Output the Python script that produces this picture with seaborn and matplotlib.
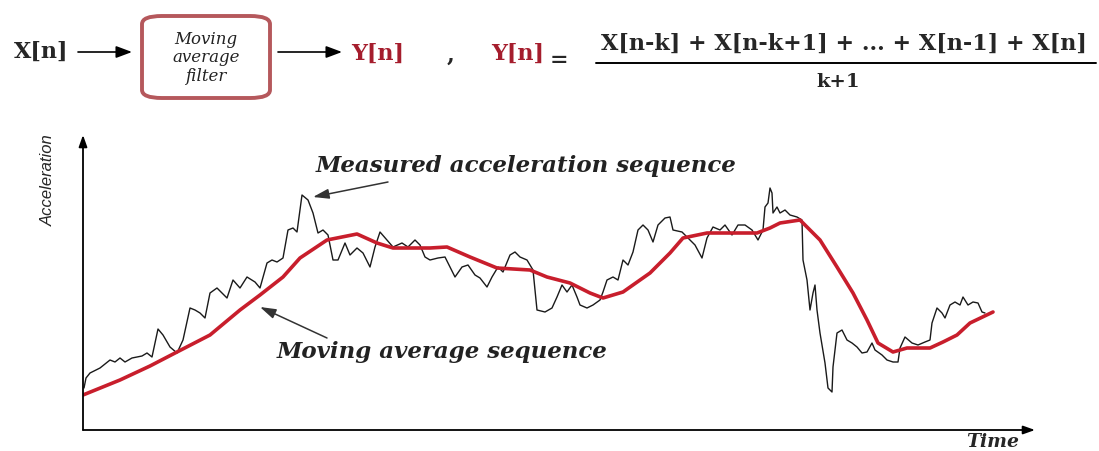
import numpy as np
import pandas as pd
import matplotlib
matplotlib.use("Agg")
import matplotlib.pyplot as plt
from matplotlib.patches import FancyBboxPatch, FancyArrowPatch
from matplotlib.lines import Line2D
import seaborn as sns

# ---------------- data ----------------
measured_time = [84, 86, 90, 100, 110, 115, 120, 125, 132, 142, 147, 152, 158, 163, 170, 177, 183, 190, 195, 200,
                 205, 210, 217, 227, 233, 240, 247, 255, 260, 267, 272, 277, 283, 288, 293, 297, 302, 308, 313, 318,
                 323, 328, 333, 338, 345, 350, 357, 363, 370, 375, 380, 387, 393, 402, 408, 415, 420, 425, 430, 438,
                 445, 450, 455, 462, 468, 475, 480, 487, 492, 498, 503, 510, 515, 520, 527, 533, 537, 545, 552, 557,
                 562, 567, 572, 577, 580, 587, 593, 600, 603, 607, 613, 618, 623, 628, 633, 638, 643, 648, 653, 658,
                 665, 670, 673, 682, 688, 695, 702, 707, 713, 720, 725, 732, 738, 745, 752, 758, 763, 765, 768, 770,
                 772, 773, 777, 780, 785, 790, 797, 802, 803, 807, 810, 813, 815, 817, 820, 825, 828, 832, 833, 837,
                 842, 847, 852, 857, 862, 867, 872, 875, 882, 887, 893, 898, 900, 905, 912, 918, 925, 930, 932, 937,
                 942, 945, 950, 955, 960, 963, 968, 973, 978, 982, 985]
measured_accel = [42, 52, 57, 62, 70, 68, 72, 68, 72, 74, 77, 73, 101, 95, 83, 77, 90, 122, 120, 117,
                  112, 137, 142, 132, 150, 142, 153, 148, 142, 167, 170, 168, 172, 200, 202, 198, 235, 230, 217, 197,
                  200, 195, 170, 170, 187, 175, 182, 177, 163, 183, 198, 190, 183, 187, 183, 190, 185, 173, 170, 172,
                  173, 163, 153, 163, 165, 155, 152, 143, 153, 163, 158, 175, 178, 173, 170, 160, 120, 118, 122, 133,
                  145, 138, 145, 133, 125, 122, 125, 130, 138, 150, 153, 150, 170, 165, 178, 200, 205, 200, 188, 205,
                  212, 213, 200, 198, 192, 185, 172, 192, 203, 200, 205, 195, 205, 205, 200, 190, 200, 223, 227, 242,
                  237, 217, 223, 217, 220, 215, 213, 210, 170, 150, 120, 137, 145, 120, 97, 67, 42, 38, 63, 97,
                  100, 90, 87, 83, 77, 78, 87, 80, 75, 70, 68, 68, 82, 93, 87, 85, 88, 90, 107, 122,
                  117, 112, 125, 128, 125, 133, 125, 128, 127, 118, 117]

average_time = [83, 120, 150, 177, 210, 240, 260, 283, 300, 327, 357, 377, 393, 430, 447, 470, 497, 530, 547, 570,
                590, 603, 623, 650, 670, 683, 707, 757, 770, 780, 800, 820, 837, 853, 867, 878, 893, 907, 930, 943,
                957, 970, 993]
average_accel = [35, 50, 64, 78, 95, 120, 135, 153, 172, 190, 196, 187, 182, 182, 183, 173, 162, 160, 153, 147,
                 137, 132, 138, 157, 177, 192, 197, 197, 202, 207, 210, 190, 163, 137, 110, 87, 78, 82, 82, 88,
                 95, 107, 118]

label_measured = "Measured acceleration sequence"
label_average = "Moving average sequence"
label_x = "Time"
label_y = "Acceleration"

measured_df = pd.DataFrame({"time": measured_time, "accel": measured_accel})
average_df = pd.DataFrame({"time": average_time, "accel": average_accel})

# ---------------- style ----------------
sns.set_style("white")
plt.rcParams["font.family"] = ["DejaVu Serif", "Liberation Serif"]

W, H = 1099, 451
fig = plt.figure(figsize=(W / 100, H / 100), dpi=100)


def fx(x):
    return x / W


def fy(y):
    return 1 - y / H


ax_left, ax_right, ax_top, ax_bottom = 83, 1035, 135, 430
ax = fig.add_axes([fx(ax_left), fy(ax_bottom), (ax_right - ax_left) / W, (ax_bottom - ax_top) / H])

sns.lineplot(data=measured_df, x="time", y="accel", ax=ax, color="#1a1a1a", lw=1.0,
             estimator=None, sort=False)
sns.lineplot(data=average_df, x="time", y="accel", ax=ax, color="#c81e2c", lw=2.6,
             estimator=None, sort=False)

ax.set_xlim(ax_left, ax_right)
ax.set_ylim(0, ax_bottom - ax_top)
ax.set_xticks([])
ax.set_yticks([])
ax.set_xlabel("")
ax.set_ylabel("")
for s in ax.spines.values():
    s.set_visible(False)

# axis arrows
arrow_kw = dict(arrowstyle="-|>,head_length=0.7,head_width=0.25", color="black", lw=1.3,
                shrinkA=0, shrinkB=0)
ax.annotate("", xy=(0, 1), xytext=(0, 0), xycoords="axes fraction", textcoords="axes fraction",
            arrowprops=arrow_kw, annotation_clip=False)
ax.annotate("", xy=(1, 0), xytext=(0, 0), xycoords="axes fraction", textcoords="axes fraction",
            arrowprops=arrow_kw, annotation_clip=False)

# axis labels
fig.text(fx(993), fy(442), label_x, fontsize=13.5, fontstyle="italic", fontweight="bold",
         ha="center", va="center")
fig.text(fx(48), fy(180), label_y, fontsize=12, fontstyle="italic", rotation=90,
         ha="center", va="center", family=["Liberation Sans Narrow", "Liberation Sans", "DejaVu Sans"])

# in-plot annotations
fig.text(fx(526), fy(166), label_measured, fontsize=16.5, fontstyle="italic", fontweight="bold",
         ha="center", va="center", color="#222222")
fig.text(fx(442), fy(352), label_average, fontsize=16.5, fontstyle="italic", fontweight="bold",
         ha="center", va="center", color="#222222")
thin_arrow = dict(arrowstyle="-|>,head_length=0.8,head_width=0.25", color="#333333", lw=1.1,
                  shrinkA=0, shrinkB=0, mutation_scale=12, transform=fig.transFigure)
fig.add_artist(FancyArrowPatch((fx(388), fy(182)), (fx(313), fy(197)), **thin_arrow))
fig.add_artist(FancyArrowPatch((fx(327), fy(338)), (fx(260), fy(307)), **thin_arrow))

# ---------------- top block diagram ----------------
dark_red = "#a51d2d"
fig.text(fx(41), fy(52), "X[n]", fontsize=16, fontweight="bold", ha="center", va="center")
block_arrow = dict(arrowstyle="-|>,head_length=0.8,head_width=0.3", color="black", lw=1.2,
                   shrinkA=0, shrinkB=0, mutation_scale=12, transform=fig.transFigure)
fig.add_artist(FancyArrowPatch((fx(78), fy(52)), (fx(132), fy(52)), **block_arrow))
box = FancyBboxPatch((fx(142), fy(98)), fx(270) - fx(142), fy(16) - fy(98),
                     boxstyle="round,pad=0,rounding_size=0.018", transform=fig.transFigure,
                     facecolor="white", edgecolor="#b5585c", lw=2.8)
fig.add_artist(box)
fig.text(fx(206), fy(58), "Moving\naverage\nfilter", fontsize=12, fontstyle="italic",
         ha="center", va="center", linespacing=1.15, color="#222222")
fig.add_artist(FancyArrowPatch((fx(278), fy(52)), (fx(342), fy(52)), **block_arrow))
fig.text(fx(378), fy(54), "Y[n]", fontsize=16, fontweight="bold", ha="center", va="center", color=dark_red)
fig.text(fx(451), fy(56), ",", fontsize=16, fontweight="bold", ha="center", va="center")
fig.text(fx(518), fy(54), "Y[n]", fontsize=16, fontweight="bold", ha="center", va="center", color=dark_red)
fig.text(fx(559), fy(60), "=", fontsize=16, fontweight="bold", ha="center", va="center")
fig.text(fx(844), fy(44), "X[n-k] + X[n-k+1] + ... + X[n-1] + X[n]", fontsize=16, fontweight="bold",
         ha="center", va="center")
fig.add_artist(Line2D([fx(596), fx(1096)], [fy(63), fy(63)], color="black", lw=1.4,
                      transform=fig.transFigure))
fig.text(fx(838), fy(82), "k+1", fontsize=14, fontweight="bold", ha="center", va="center")

fig.savefig("out.png", dpi=100)
